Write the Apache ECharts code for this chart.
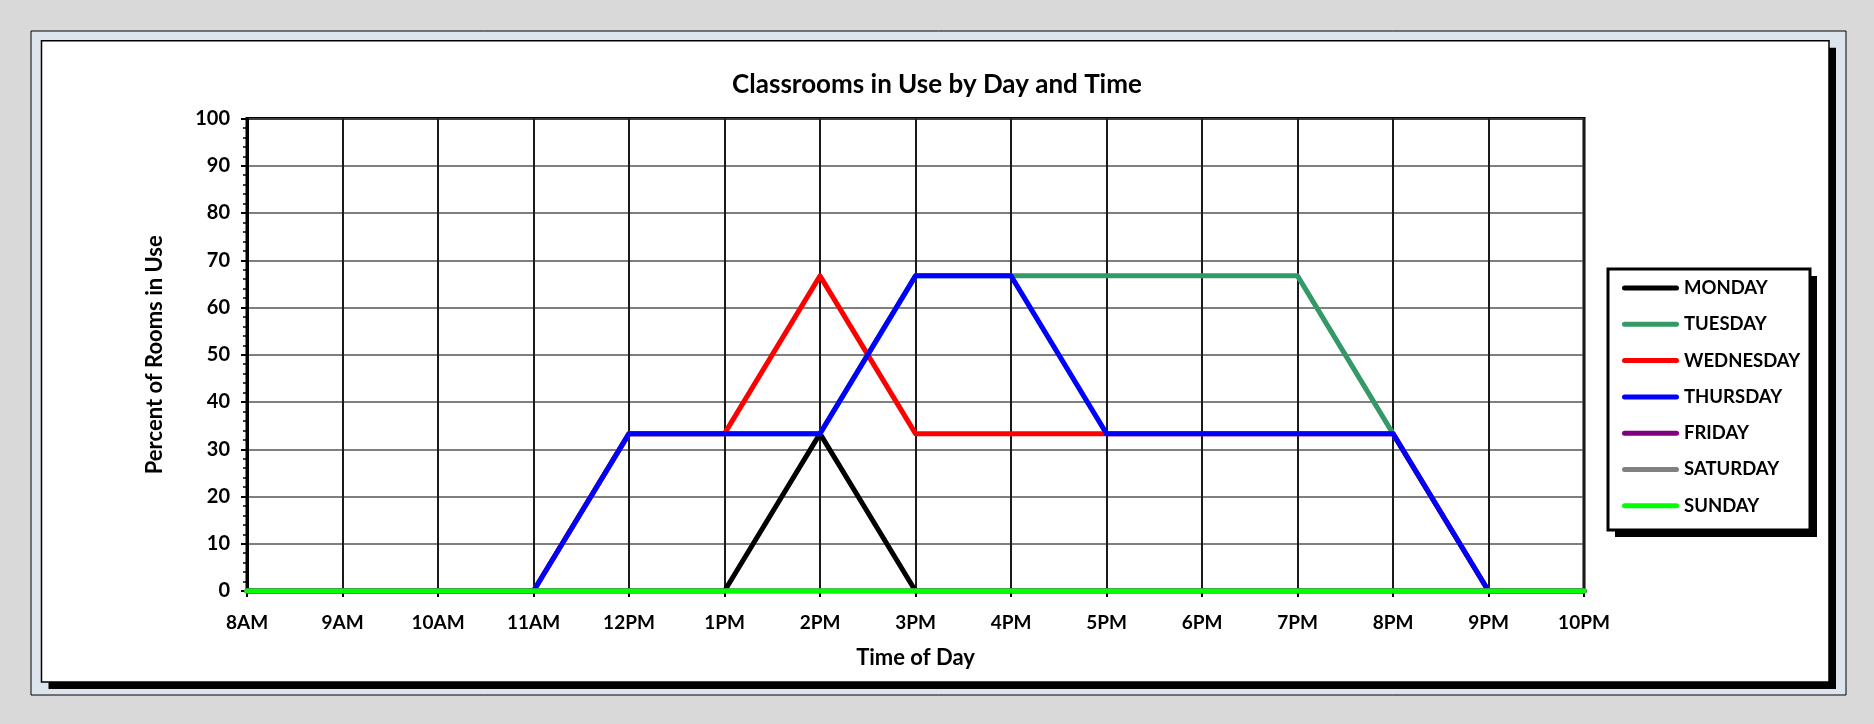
<!DOCTYPE html>
<html>
<head>
<meta charset="utf-8">
<title>Classrooms in Use by Day and Time</title>
<script src="https://cdn.jsdelivr.net/npm/echarts@6/dist/echarts.min.js"></script>
<style>
  html, body { margin: 0; padding: 0; background: #d9d9d9; }
  #chart { width: 1874px; height: 724px; }
</style>
</head>
<body>
<div id="chart"></div>
<script>
// Hourly time slots along the x axis
const hours = ['8AM', '9AM', '10AM', '11AM', '12PM', '1PM', '2PM', '3PM', '4PM', '5PM', '6PM', '7PM', '8PM', '9PM', '10PM'];

// Percent of rooms in use, one value per hour
const monday    = [0, 0, 0, 0, 0, 0, 33.3, 0, 0, 0, 0, 0, 0, 0, 0];
const tuesday   = [0, 0, 0, 0, 33.3, 33.3, 33.3, 66.7, 66.7, 66.7, 66.7, 66.7, 33.3, 0, 0];
const wednesday = [0, 0, 0, 0, 33.3, 33.3, 66.7, 33.3, 33.3, 33.3, 33.3, 33.3, 33.3, 0, 0];
const thursday  = [0, 0, 0, 0, 33.3, 33.3, 33.3, 66.7, 66.7, 33.3, 33.3, 33.3, 33.3, 0, 0];
const friday    = [0, 0, 0, 0, 0, 0, 0, 0, 0, 0, 0, 0, 0, 0, 0];
const saturday  = [0, 0, 0, 0, 0, 0, 0, 0, 0, 0, 0, 0, 0, 0, 0];
const sunday    = [0, 0, 0, 0, 0, 0, 0, 0, 0, 0, 0, 0, 0, 0, 0];

const dayNames  = ['MONDAY', 'TUESDAY', 'WEDNESDAY', 'THURSDAY', 'FRIDAY', 'SATURDAY', 'SUNDAY'];
const dayValues = [monday, tuesday, wednesday, thursday, friday, saturday, sunday];
const dayColors = ['#000000', '#339966', '#ff0000', '#0000ff', '#800080', '#808080', '#00ff00'];

// Y axis ticks
const yMin = 0, yMax = 100, yStep = 10;

const FONT = 'Lato, "Open Sans", sans-serif';
const chart = echarts.init(document.getElementById('chart'), null, { renderer: 'canvas' });

const series = dayNames.map((name, i) => ({
  name: name,
  type: 'line',
  data: dayValues[i],
  symbol: 'none',
  z: 3 + i,
  color: dayColors[i],
  lineStyle: { width: 5, color: dayColors[i], cap: 'round', join: 'round' },
  emphasis: { disabled: true }
}));

const legendIcon = 'path://M2.5,0 L54.5,0 A2.5,2.5 0 0 1 54.5,5 L2.5,5 A2.5,2.5 0 0 1 2.5,0 Z';

chart.setOption({
  animation: false,
  backgroundColor: '#d9d9d9',
  graphic: [
    // outer light frame
    { type: 'rect', z: -10, shape: { x: 31, y: 31, width: 1815, height: 664 },
      style: { fill: '#dee4ed', stroke: '#000', lineWidth: 1 } },
    // drop shadow of the chart panel
    { type: 'rect', z: -9, shape: { x: 48.5, y: 47.7, width: 1787.5, height: 641.3 },
      style: { fill: '#000' } },
    // white chart panel
    { type: 'rect', z: -8, shape: { x: 41.5, y: 40.7, width: 1787.5, height: 641.3 },
      style: { fill: '#fff', stroke: '#000', lineWidth: 1.5 } },
    // legend shadow
    { type: 'rect', z: -7, shape: { x: 1615, y: 276, width: 202, height: 261 },
      style: { fill: '#000' } },
    // legend box
    { type: 'rect', z: -6, shape: { x: 1608, y: 269, width: 202, height: 261 },
      style: { fill: '#fff', stroke: '#000', lineWidth: 3 } }
  ],
  title: {
    text: 'Classrooms in Use by Day and Time',
    left: 'center',
    top: 67,
    textStyle: { fontFamily: FONT, fontWeight: 'bold', fontSize: 26, lineHeight: 26, color: '#000' }
  },
  legend: {
    orient: 'vertical',
    left: 1622,
    top: 278.5,
    padding: 0,
    itemWidth: 57,
    itemHeight: 18,
    itemGap: 17.3,
    icon: legendIcon,
    data: dayNames,
    selectedMode: false,
    textStyle: { fontFamily: FONT, fontWeight: 'bold', fontSize: 18.5, lineHeight: 19, color: '#000' }
  },
  grid: {
    left: 247, right: 290, top: 118.5, bottom: 133,
    show: true, backgroundColor: '#fff', borderColor: '#000', borderWidth: 3
  },
  xAxis: {
    type: 'category',
    data: hours,
    boundaryGap: false,
    name: 'Time of Day',
    nameLocation: 'middle',
    nameGap: 56,
    nameTextStyle: { fontFamily: FONT, fontWeight: 'bold', fontSize: 22, lineHeight: 22, color: '#000' },
    axisLine: { show: true, lineStyle: { color: '#000', width: 2 } },
    axisTick: { show: true, length: 6, lineStyle: { color: '#000', width: 2 } },
    axisLabel: { fontFamily: FONT, fontWeight: 'bold', fontSize: 19, lineHeight: 19, color: '#000', margin: 22 },
    splitLine: { show: true, lineStyle: { color: '#1a1a1a', width: 2 } }
  },
  yAxis: {
    type: 'value',
    min: yMin, max: yMax, interval: yStep,
    name: 'Percent of Rooms in Use',
    nameLocation: 'middle',
    nameGap: 81,
    nameTextStyle: { fontFamily: FONT, fontWeight: 'bold', fontSize: 22, lineHeight: 22, color: '#000' },
    axisLine: { show: true, lineStyle: { color: '#000', width: 3 } },
    axisTick: { show: true, length: 6, lineStyle: { color: '#000', width: 2 } },
    minorTick: { show: true, splitNumber: 5, length: 4, lineStyle: { color: '#000', width: 1.5 } },
    axisLabel: { fontFamily: FONT, fontWeight: 'bold', fontSize: 20, color: '#000', margin: 17 },
    splitLine: { show: true, lineStyle: { color: '#555', width: 1.5 } }
  },
  series: series
});
</script>
</body>
</html>
